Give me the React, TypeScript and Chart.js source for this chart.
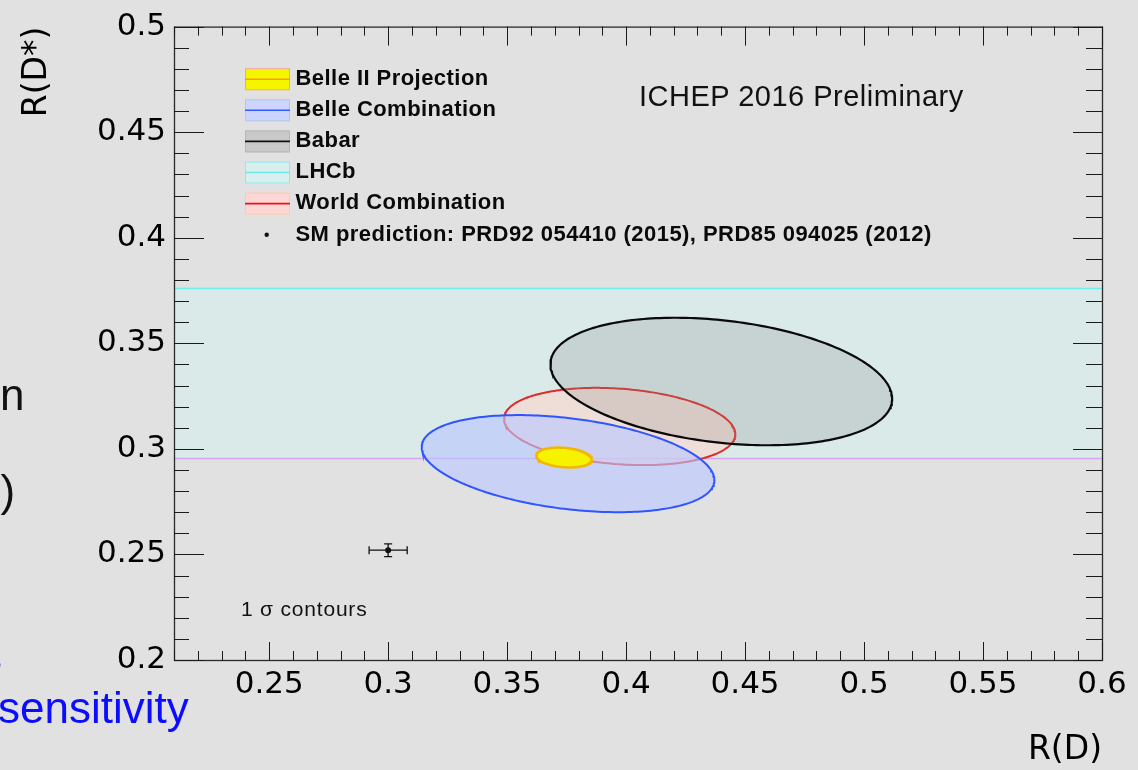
import React, { useEffect, useRef } from 'react';
import { Chart, registerables } from 'chart.js';

Chart.register(...registerables);

// ---------- axes ----------
const X_MIN = 0.21;
const X_MAX = 0.6;
const Y_MIN = 0.2;
const Y_MAX = 0.5;
const X_TICKS = [0.25, 0.3, 0.35, 0.4, 0.45, 0.5, 0.55, 0.6];
const X_TICK_LABELS = ['0.25', '0.3', '0.35', '0.4', '0.45', '0.5', '0.55', '0.6'];
const Y_TICKS = [0.2, 0.25, 0.3, 0.35, 0.4, 0.45, 0.5];
const Y_TICK_LABELS = ['0.2', '0.25', '0.3', '0.35', '0.4', '0.45', '0.5'];
const MINOR_STEP = 0.01;
const X_TITLE = 'R(D)';
const Y_TITLE = 'R(D*)';

// ---------- 1 sigma contours: R(D), R(D*) ----------
const CONTOUR_NAMES = ['Belle II Projection', 'Belle Combination', 'Babar', 'World Combination'];
const CENTER_RD = [0.3739, 0.3756, 0.4400, 0.3973];
const CENTER_RDS = [0.2959, 0.2930, 0.3319, 0.3106];
const SIGMA_RD = [0.0117, 0.0615, 0.0718, 0.0486];
const SIGMA_RDS = [0.0047, 0.0230, 0.0302, 0.0183];
const RHO = [-0.20, -0.34, -0.27, -0.20];

// ---------- LHCb R(D*) band ----------
const LHCB_RDS = 0.3357;
const LHCB_SIGMA = 0.0403;

// ---------- SM prediction ----------
const SM_RD = [0.300];
const SM_RDS = [0.252];
const SM_RD_ERR = [0.008];
const SM_RDS_ERR = [0.003];

// ---------- legend / annotations ----------
const LEGEND_LABELS = [
  'Belle II Projection',
  'Belle Combination',
  'Babar',
  'LHCb',
  'World Combination',
  'SM prediction: PRD92 054410 (2015), PRD85 094025 (2012)',
];
const ANNOTATION_TITLE = 'ICHEP 2016 Preliminary';
const ANNOTATION_CONTOURS = '1 \u03c3 contours';

// ---------- styles ----------
const CONTOUR_STYLE = [
  { fill: '#f6f200', line: '#f2b800', width: 2.5 },
  { fill: 'rgba(185,198,255,0.62)', line: '#2f55ff', width: 2 },
  { fill: 'rgba(140,140,140,0.24)', line: '#0a0a0a', width: 2.2 },
  { fill: 'rgba(255,211,202,0.55)', line: '#dd2a2a', width: 2 },
];
const CONTOUR_ORDER = [1, 2, 3, 4];
const LEGEND_BOX = [
  { fill: '#f5f500', stroke: '#e8a0c8', line: '#ff9a00' },
  { fill: '#cdd5ff', stroke: '#b0c8e8', line: '#2f5bff' },
  { fill: '#c9c9c9', stroke: '#b0b8c0', line: '#111111' },
  { fill: '#d9efed', stroke: '#80eeee', line: '#70e8e8' },
  { fill: '#fdd6d6', stroke: '#f0d0b0', line: '#f01010' },
];
const LEG_X = 245;
const LEG_W = 45;
const LEG_H = 22;
const LEG_Y0 = 79.2;
const LEG_DY = 31.1;
const TEXT_FONT = '"Liberation Sans", Arial, Helvetica, sans-serif';
const AXIS_FONT = 'DejaVu Sans';
const BG = '#e1e1e1';

function contourPoints(i: number) {
  const pts: { x: number; y: number }[] = [];
  const n = 240;
  const s = Math.sqrt(1 - RHO[i] * RHO[i]);
  for (let k = 0; k <= n; k++) {
    const t = (2 * Math.PI * k) / n;
    pts.push({
      x: CENTER_RD[i] + SIGMA_RD[i] * Math.cos(t),
      y: CENTER_RDS[i] + SIGMA_RDS[i] * (RHO[i] * Math.cos(t) + s * Math.sin(t)),
    });
  }
  return pts;
}

function minorValues(min: number, max: number) {
  const out: number[] = [];
  const n = Math.round((max - min) / MINOR_STEP);
  for (let k = 0; k <= n; k++) out.push(min + k * MINOR_STEP);
  return out;
}

const framePlugin = {
  id: 'rootFrame',
  afterDatasetsDraw(chart: any) {
    const { ctx, chartArea: a, scales } = chart;
    const sx = scales.x;
    const sy = scales.y;
    ctx.save();
    // SM error bars
    ctx.strokeStyle = '#111';
    ctx.lineWidth = 1.3;
    for (let i = 0; i < SM_RD.length; i++) {
      const px = sx.getPixelForValue(SM_RD[i]);
      const py = sy.getPixelForValue(SM_RDS[i]);
      const x1 = sx.getPixelForValue(SM_RD[i] - SM_RD_ERR[i]);
      const x2 = sx.getPixelForValue(SM_RD[i] + SM_RD_ERR[i]);
      const y1 = sy.getPixelForValue(SM_RDS[i] - SM_RDS_ERR[i]);
      const y2 = sy.getPixelForValue(SM_RDS[i] + SM_RDS_ERR[i]);
      ctx.beginPath();
      ctx.moveTo(x1, py); ctx.lineTo(x2, py);
      ctx.moveTo(px, y1); ctx.lineTo(px, y2);
      ctx.moveTo(x1, py - 4); ctx.lineTo(x1, py + 4);
      ctx.moveTo(x2, py - 4); ctx.lineTo(x2, py + 4);
      ctx.moveTo(px - 4, y1); ctx.lineTo(px + 4, y1);
      ctx.moveTo(px - 4, y2); ctx.lineTo(px + 4, y2);
      ctx.stroke();
    }
    // frame
    ctx.strokeStyle = '#2a2a2a';
    ctx.lineWidth = 1.3;
    ctx.strokeRect(a.left + 0.5, a.top + 0.5, a.right - a.left, a.bottom - a.top);
    // ticks
    ctx.strokeStyle = '#1a1a1a';
    ctx.lineWidth = 1;
    const isMajor = (v: number, arr: number[]) => arr.some((m) => Math.abs(m - v) < 1e-6);
    ctx.beginPath();
    for (const v of minorValues(X_MIN, X_MAX)) {
      const p = Math.round(sx.getPixelForValue(v)) + 0.5;
      const maj = isMajor(v, X_TICKS);
      ctx.moveTo(p, a.bottom); ctx.lineTo(p, a.bottom - (maj ? 18 : 9));
      ctx.moveTo(p, a.top); ctx.lineTo(p, a.top + (maj ? 19 : 9));
    }
    for (const v of minorValues(Y_MIN, Y_MAX)) {
      const p = Math.round(sy.getPixelForValue(v)) + 0.5;
      const maj = isMajor(v, Y_TICKS);
      ctx.moveTo(a.left, p); ctx.lineTo(a.left + (maj ? 30 : 15), p);
      ctx.moveTo(a.right, p); ctx.lineTo(a.right - (maj ? 29 : 16), p);
    }
    ctx.stroke();
    ctx.restore();
  },
  afterDraw(chart: any) {
    const { ctx } = chart;
    ctx.save();
    for (let i = 0; i < LEGEND_BOX.length; i++) {
      const st = LEGEND_BOX[i];
      const cy = LEG_Y0 + i * LEG_DY;
      ctx.fillStyle = st.fill;
      ctx.fillRect(LEG_X, cy - LEG_H / 2, LEG_W, LEG_H);
      ctx.strokeStyle = st.stroke;
      ctx.lineWidth = 1;
      ctx.strokeRect(LEG_X + 0.5, cy - LEG_H / 2 + 0.5, LEG_W - 1, LEG_H - 1);
      ctx.strokeStyle = st.line;
      ctx.lineWidth = 1.6;
      ctx.beginPath();
      ctx.moveTo(LEG_X, cy);
      ctx.lineTo(LEG_X + LEG_W, cy);
      ctx.stroke();
    }
    const smY = LEG_Y0 + 5 * LEG_DY;
    ctx.fillStyle = '#111';
    ctx.beginPath();
    ctx.arc(LEG_X + 21.7, smY, 2.2, 0, Math.PI * 2);
    ctx.fill();
    ctx.restore();
  },
};

export default function App() {
  const ref = useRef<HTMLCanvasElement | null>(null);

  useEffect(() => {
    document.body.style.margin = '0';
    document.body.style.background = BG;
    const canvas = ref.current;
    if (!canvas) return;

    const datasets: any[] = [];
    // LHCb band
    const bTop = LHCB_RDS + LHCB_SIGMA;
    const bBot = LHCB_RDS - LHCB_SIGMA;
    datasets.push({
      label: 'LHCb',
      data: [
        { x: X_MIN, y: bTop },
        { x: X_MAX, y: bTop },
        { x: X_MAX, y: bBot },
        { x: X_MIN, y: bBot },
        { x: X_MIN, y: bTop },
      ],
      fill: 'shape',
      backgroundColor: 'rgba(200,255,250,0.3)',
      borderWidth: 0,
      borderColor: 'rgba(0,0,0,0)',
      pointRadius: 0,
      order: 7,
    });
    datasets.push({
      label: 'LHCb upper',
      data: [{ x: X_MIN, y: bTop }, { x: X_MAX, y: bTop }],
      fill: false,
      borderColor: '#6ff0f0',
      borderWidth: 1.5,
      pointRadius: 0,
      order: 6,
    });
    datasets.push({
      label: 'LHCb lower',
      data: [{ x: X_MIN, y: bBot }, { x: X_MAX, y: bBot }],
      fill: false,
      borderColor: '#d7a6f2',
      borderWidth: 1.5,
      pointRadius: 0,
      order: 6,
    });
    for (let i = 0; i < CONTOUR_NAMES.length; i++) {
      datasets.push({
        label: CONTOUR_NAMES[i],
        data: contourPoints(i),
        fill: 'shape',
        backgroundColor: CONTOUR_STYLE[i].fill,
        borderColor: CONTOUR_STYLE[i].line,
        borderWidth: CONTOUR_STYLE[i].width,
        pointRadius: 0,
        tension: 0,
        order: CONTOUR_ORDER[i],
      });
    }
    datasets.push({
      label: 'SM prediction',
      data: SM_RD.map((x, i) => ({ x, y: SM_RDS[i] })),
      showLine: false,
      fill: false,
      pointRadius: 3,
      pointBackgroundColor: '#111',
      pointBorderColor: '#111',
      borderWidth: 0,
      order: 0,
    });

    const chart = new Chart(canvas, {
      type: 'line',
      data: { datasets },
      options: {
        animation: false,
        responsive: false,
        maintainAspectRatio: false,
        devicePixelRatio: 1,
        events: [],
        layout: { padding: { left: 0, top: 23, right: 36, bottom: 0 } },
        plugins: { legend: { display: false }, tooltip: { enabled: false } },
        scales: {
          x: {
            type: 'linear',
            min: X_MIN,
            max: X_MAX,
            afterFit: (s: any) => { s.height = 110; },
            afterBuildTicks: (s: any) => { s.ticks = X_TICKS.map((v) => ({ value: v })); },
            grid: { display: false, drawTicks: false },
            border: { display: false },
            ticks: {
              padding: 6,
              autoSkip: false,
              maxRotation: 0,
              color: '#000',
              font: { family: AXIS_FONT, size: 31 },
              callback: (v: any) => X_TICK_LABELS[X_TICKS.findIndex((t) => Math.abs(t - v) < 1e-9)],
            },
            title: {
              display: true,
              text: X_TITLE,
              align: 'end',
              padding: { top: 0, bottom: 0 },
              color: '#000',
              font: { family: AXIS_FONT, size: 33 },
            },
          },
          y: {
            type: 'linear',
            min: Y_MIN,
            max: Y_MAX,
            afterFit: (s: any) => { s.width = 174; },
            afterBuildTicks: (s: any) => { s.ticks = Y_TICKS.map((v) => ({ value: v })); },
            grid: { display: false, drawTicks: false },
            border: { display: false },
            ticks: {
              padding: 8,
              autoSkip: false,
              color: '#000',
              font: { family: AXIS_FONT, size: 31 },
              callback: (v: any) => Y_TICK_LABELS[Y_TICKS.findIndex((t) => Math.abs(t - v) < 1e-9)],
            },
            title: {
              display: true,
              text: Y_TITLE,
              align: 'end',
              padding: { top: 18, bottom: 0 },
              color: '#000',
              font: { family: AXIS_FONT, size: 33 },
            },
          },
        },
      },
      plugins: [framePlugin],
    } as any);

    return () => chart.destroy();
  }, []);

  const legendText = LEGEND_LABELS.map((t, i) => (
    <div
      key={t}
      style={{
        position: 'absolute',
        left: 295.5,
        top: LEG_Y0 + i * LEG_DY - 12.2,
        fontFamily: TEXT_FONT,
        fontWeight: 'bold',
        fontSize: 22,
        lineHeight: '22px',
        letterSpacing: '0.45px',
        color: '#0a0a0a',
        whiteSpace: 'nowrap',
      }}
    >
      {t}
    </div>
  ));

  const abs = (left: number, top: number, size: number, color: string, extra: any = {}) => ({
    position: 'absolute' as const,
    left,
    top,
    fontFamily: TEXT_FONT,
    fontSize: size,
    lineHeight: `${size}px`,
    color,
    whiteSpace: 'nowrap' as const,
    ...extra,
  });

  return (
    <div
      style={{
        position: 'fixed',
        left: 0,
        top: 0,
        width: 1138,
        height: 770,
        overflow: 'hidden',
        background: BG,
      }}
    >
      <canvas ref={ref} width={1138} height={770} style={{ position: 'absolute', left: 0, top: 0, width: 1138, height: 770 }} />
      {legendText}
      <div style={abs(639, 81.5, 29, '#111', { letterSpacing: '0.5px' })}>{ANNOTATION_TITLE}</div>
      <div style={abs(241, 598.2, 21, '#111', { letterSpacing: '0.8px' })}>{ANNOTATION_CONTOURS}</div>
      <div style={abs(0, 372.8, 44, '#111')}>n</div>
      <div style={abs(0.5, 469, 44, '#111')}>)</div>
      <div style={abs(-20, 635, 44, '#0c0cff')}>s</div>
      <div style={abs(-2, 685.8, 44, '#0c0cff')}>sensitivity</div>
    </div>
  );
}
